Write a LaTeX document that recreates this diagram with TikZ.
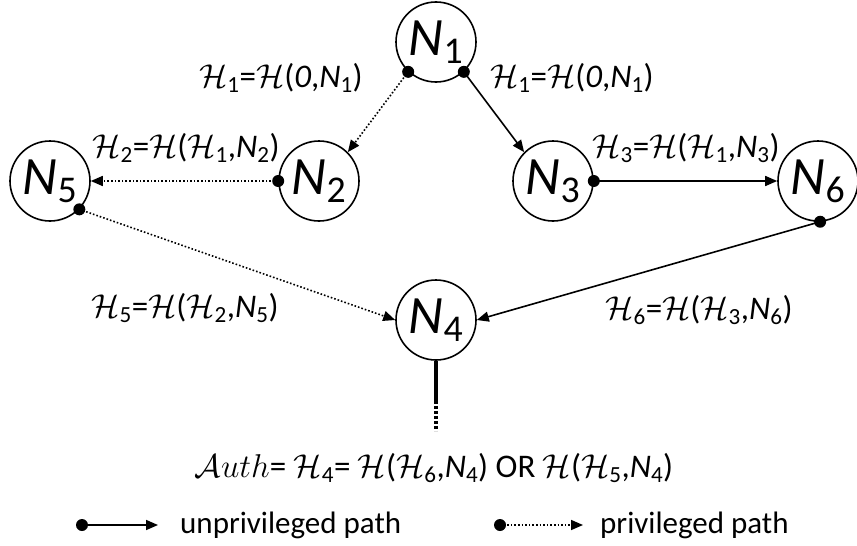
\RequirePackage{fix-cm}
\documentclass[tikz,border=0pt]{standalone}
\usepackage{fontspec}
\setmainfont{Carlito}
\usetikzlibrary{arrows.meta}
\newcommand{\Hc}{$\mathcal{H}$}
\newcommand{\Hs}[1]{$\mathcal{H}$\textsubscript{#1}}
\newcommand{\Ns}[1]{\textit{N}\textsubscript{#1}}

\begin{document}
\begin{tikzpicture}
        [x=1pt, y=-1pt,
        node/.style={circle,draw,minimum size=80pt, inner sep=0pt, line width=1.6pt, font=\fontsize{54}{54}\selectfont},
        hash/.style={font=\fontsize{33}{36}\selectfont, inner sep=0pt},
        dot/.style={circle,fill,inner sep=0pt,minimum size=12pt},
        edge/.style={line width=1.6pt, -{Triangle[length=12pt,width=10pt]}},
        privedge/.style={edge, dotted}]
        \useasboundingbox (0,0) rectangle (857,546);

        \node[node] (N1) at (436,42) {\Ns{1}};
        \node[node] (N2) at (319,181) {\Ns{2}};
        \node[node] (N3) at (553,181) {\Ns{3}};
        \node[node] (N5) at (50,181) {\Ns{5}};
        \node[node] (N6) at (818,181) {\Ns{6}};
        \node[node] (N4) at (436,320) {\Ns{4}};

        \node[hash] (h1l) at (281,78) {\Hs{1}=\Hc(\textit{0},\Ns{1})};
        \node[hash] (h1r) at (572,78) {\Hs{1}=\Hc(\textit{0},\Ns{1})};
        \node[hash] (h2) at (186,148) {\Hs{2}=\Hc(\Hs{1},\Ns{2})};
        \node[hash] (h3) at (686,148) {\Hs{3}=\Hc(\Hs{1},\Ns{3})};
        \node[hash] (h5) at (185,308) {\Hs{5}=\Hc(\Hs{2},\Ns{5})};
        \node[hash] (h6) at (699,310) {\Hs{6}=\Hc(\Hs{3},\Ns{6})};
        \node[hash, font=\fontsize{33}{36}\selectfont] (auth) at (434,468) {$\mathcal{A}uth$= \Hs{4}= \Hc(\Hs{6},\Ns{4}) OR \Hc(\Hs{5},\Ns{4})};

        \draw[privedge] (N1.227) node[dot] (d12) {} -- (N2.45);
        \draw[edge] (N1.313) node[dot] (d13) {} -- (N3.135);
        \draw[privedge] (N2.west) node[dot] (d25) {} -- (N5.east);
        \draw[edge] (N3.east) node[dot] (d36) {} -- (N6.west);
        \draw[privedge] (N5.-44) node[dot] (d54) {} -- (N4.west);
        \draw[edge] (N6.-87) node[dot] (d64) {} -- (N4.east);

        \draw[line width=3.5pt] (N4.south) -- ++(0,40) coordinate (out1);
        \draw[line width=3.5pt, dash pattern=on 3pt off 2pt] (out1) -- ++(0,30) coordinate (out2);

        % legend
        \node[dot] (ld1) at (82,525) {};
        \coordinate (lt1) at (158,525);
        \draw[edge] (ld1.center) -- (lt1);
        \node[hash, font=\fontsize{31}{34}\selectfont, anchor=west] (lg1) at (180,525) {unprivileged path};
        \node[dot] (ld2) at (500,525) {};
        \coordinate (lt2) at (583,525);
        \draw[privedge] (ld2.center) -- (lt2);
        \node[hash, font=\fontsize{31}{34}\selectfont, anchor=west] (lg2) at (600,525) {privileged path};
\end{tikzpicture}
\end{document}
